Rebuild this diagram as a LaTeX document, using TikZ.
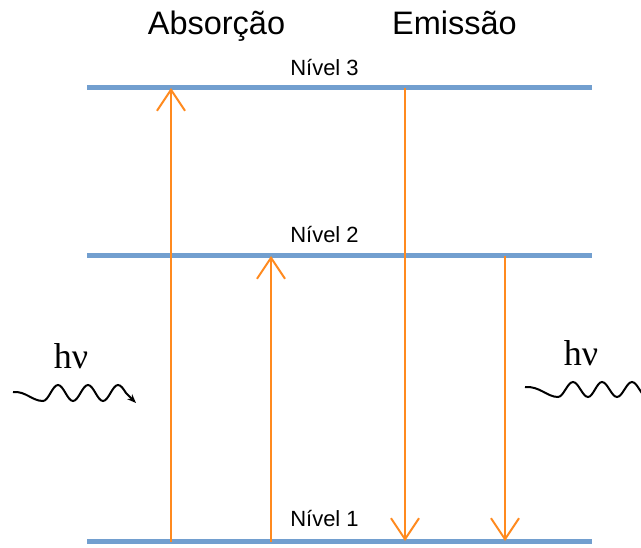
\documentclass[tikz,border=0pt]{standalone}
\usepackage{fontspec}
\setmainfont{Liberation Sans}
\newfontfamily\photonfont{Liberation Serif}
\usetikzlibrary{arrows.meta}
\definecolor{levelblue}{HTML}{729FCF}
\definecolor{transorange}{HTML}{FF8A1F}

\begin{document}
\begin{tikzpicture}[x=1pt,y=-1pt,
  levelline/.style={levelblue,line width=5pt},
  trans/.style={transorange,line width=2pt,
    -{Straight Barb[length=21pt,width=28pt]}},
  levellabel/.style={font=\fontsize{22}{22}\selectfont,anchor=base,inner sep=0pt},
  heading/.style={font=\fontsize{32.5}{32.5}\selectfont,anchor=base,inner sep=0pt},
  photon/.style={font=\photonfont\fontsize{36}{36}\selectfont,anchor=base,inner sep=0pt},
  wave/.style={black,line width=2pt}]

\clip (0,0) rectangle (641,548);
\fill[white] (0,0) rectangle (641,548);

% energy levels
\coordinate (L3w) at (87,88);  \coordinate (L3e) at (592,88);
\coordinate (L2w) at (87,256); \coordinate (L2e) at (592,256);
\coordinate (L1w) at (87,542); \coordinate (L1e) at (592,542);
\draw[levelline] (L3w) -- (L3e);
\draw[levelline] (L2w) -- (L2e);
\draw[levelline] (L1w) -- (L1e);

\node[levellabel] (n3) at (324.5,76)  {Nível 3};
\node[levellabel] (n2) at (324.5,243) {Nível 2};
\node[levellabel] (n1) at (324.5,527) {Nível 1};

% headings
\node[heading] (abs) at (216.5,35) {Absorção};
\node[heading] (emi) at (454.5,35) {Emissão};

% transition end points on the levels
\coordinate (a1) at (171,542); \coordinate (a3) at (171,88);
\coordinate (b1) at (271,542); \coordinate (b2) at (271,256);
\coordinate (c3) at (405,88);  \coordinate (c1) at (405,541);
\coordinate (d2) at (505,256); \coordinate (d1) at (505,541);

% absorption (upwards) and emission (downwards)
\draw[trans] (a1) -- (a3);
\draw[trans] (b1) -- (b2);
\draw[trans] (c3) -- (c1);
\draw[trans] (d2) -- (d1);

% incoming photon
\node[photon] (hvin) at (71,369) {hν};
\draw[wave,-{Stealth[length=9pt,width=7pt]}]
  (13,392) .. controls (26,391) and (32,401) .. (43,401)
  cos (50.5,393) sin (58,385) cos (65.5,393) sin (73,401)
  cos (80.5,393) sin (88,385) cos (95.5,393) sin (103,401)
  cos (110.5,393) sin (118,385) cos (126,393) -- (136,403);

% outgoing photon
\node[photon] (hvout) at (581,366) {hν};
\draw[wave]
  (525,387) .. controls (540,386) and (547,397) .. (558,397)
  cos (565.5,389.5) sin (573,382) cos (580.5,389.5) sin (588,397)
  cos (595,389.5) sin (602,382) cos (609.5,389.5) sin (617,397)
  cos (624.5,389.5) sin (632,382) cos (639.5,389.5) sin (647,397)
  cos (654,389.5);

\end{tikzpicture}
\end{document}
